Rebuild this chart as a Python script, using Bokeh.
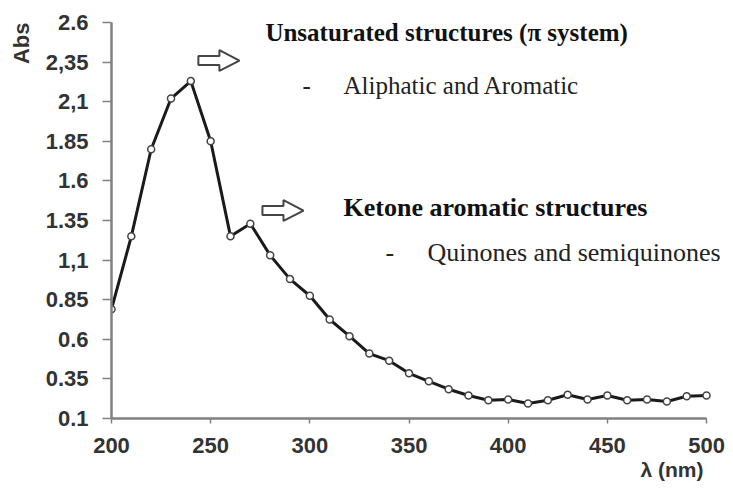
from bokeh.plotting import figure
from bokeh.models import Range1d, FixedTicker, Label, PolyAnnotation, ColumnDataSource, Title
from bokeh.embed import file_html
from bokeh.resources import INLINE

# ---- data ----
wavelength = [200, 210, 220, 230, 240, 250, 260, 270, 280, 290, 300, 310, 320, 330, 340, 350,
              360, 370, 380, 390, 400, 410, 420, 430, 440, 450, 460, 470, 480, 490, 500]
absorbance = [0.79, 1.25, 1.80, 2.12, 2.23, 1.85, 1.25, 1.33, 1.13, 0.98, 0.875, 0.725, 0.62, 0.51,
              0.465, 0.385, 0.335, 0.285, 0.245, 0.215, 0.22, 0.195, 0.215, 0.25, 0.22, 0.245,
              0.215, 0.22, 0.207, 0.24, 0.245]
y_ticks = [0.1, 0.35, 0.6, 0.85, 1.1, 1.35, 1.6, 1.85, 2.1, 2.35, 2.6]
y_tick_labels = ["0.1", "0.35", "0.6", "0.85", "1,1", "1.35", "1.6", "1.85", "2,1", "2,35", "2.6"]
x_ticks = [200, 250, 300, 350, 400, 450, 500]

# annotation texts and anchors (nm, Abs)
title1 = "Unsaturated structures (\u03c0 system)"
item1 = "Aliphatic and Aromatic"
title2 = "Ketone aromatic structures"
item2 = "Quinones and semiquinones"
arrow_tail_nm = [243.8, 276.1]
arrow_y = [2.36, 1.413]

# frame extends to the right/top edges so annotations are not clipped; axes bounded to the data span
p = figure(width=733, height=492, output_backend="svg", toolbar_location=None,
           x_range=Range1d(200, 513.6), y_range=Range1d(0.1, 2.739),
           min_border_left=111, min_border_right=0, min_border_top=0, min_border_bottom=74)
p.outline_line_color = None
p.xgrid.visible = False
p.ygrid.visible = False
p.background_fill_color = "white"

for ax in (p.xaxis[0], p.yaxis[0]):
    ax.axis_line_color = "#808080"
    ax.axis_line_width = 2.5
    ax.major_tick_line_color = "#808080"
    ax.major_tick_line_width = 1.5
    ax.minor_tick_line_color = None
    ax.major_tick_in = 0
    ax.major_label_text_font = "Liberation Sans"
    ax.major_label_text_font_style = "bold"
    ax.major_label_text_font_size = "22px"
    ax.major_label_text_color = "#333333"

p.xaxis.ticker = FixedTicker(ticks=x_ticks)
p.xaxis.bounds = (200, 500)
p.xaxis.major_tick_out = 5
p.xaxis.major_label_standoff = 14
p.yaxis.ticker = FixedTicker(ticks=y_ticks)
p.yaxis.bounds = (0.1, 2.6)
p.yaxis.major_label_overrides = {t: l for t, l in zip(y_ticks, y_tick_labels)}
p.yaxis.major_tick_out = 9
p.yaxis.major_label_standoff = 14

src = ColumnDataSource(dict(x=wavelength, y=absorbance))
p.line("x", "y", source=src, line_color="#1a1a1a", line_width=3)
p.scatter("x", "y", source=src, size=7, fill_color="white", line_color="#444444", line_width=1.5)

# hollow block arrows
arrow_len, head_len, shaft_half, head_half = 20.7, 10.1, 0.028, 0.066
for tx, cy in zip(arrow_tail_nm, arrow_y):
    hb = tx + arrow_len - head_len
    tip = tx + arrow_len
    xs = [tx, hb, hb, tip, hb, hb, tx]
    ys = [cy - shaft_half, cy - shaft_half, cy - head_half, cy, cy + head_half, cy + shaft_half, cy + shaft_half]
    p.add_layout(PolyAnnotation(xs=xs, ys=ys, fill_color="white", fill_alpha=1.0,
                                line_color="#444444", line_alpha=1.0, line_width=2))

serif = "Liberation Serif"
p.add_layout(Label(x=277.6, y=2.537, text=title1, text_font=serif, text_font_style="bold",
                   text_font_size="25px", text_color="#111111", text_baseline="alphabetic"))
p.add_layout(Label(x=296.3, y=2.202, text="-", text_font=serif, text_font_size="25px",
                   text_color="#222222", text_baseline="alphabetic"))
p.add_layout(Label(x=317.0, y=2.202, text=item1, text_font=serif, text_font_size="25px",
                   text_color="#222222", text_baseline="alphabetic"))
p.add_layout(Label(x=317.0, y=1.432, text=title2, text_font=serif, text_font_style="bold",
                   text_font_size="26px", text_color="#111111", text_baseline="alphabetic"))
p.add_layout(Label(x=338.1, y=1.148, text="-", text_font=serif, text_font_size="26px",
                   text_color="#222222", text_baseline="alphabetic"))
p.add_layout(Label(x=359.3, y=1.148, text=item2, text_font=serif, text_font_size="26px",
                   text_color="#222222", text_baseline="alphabetic"))

# axis titles as side-panel titles
p.add_layout(Title(text="Abs", align="right", vertical_align="top", offset=22, standoff=13,
                   text_font="Liberation Sans", text_font_style="bold", text_font_size="22px",
                   text_color="#333333"), "left")
p.add_layout(Title(text="\u03bb (nm)", align="right", offset=30, standoff=0,
                   text_font="Liberation Sans", text_font_style="bold", text_font_size="21px",
                   text_color="#333333"), "below")

open("out.html", "w").write(file_html(p, INLINE))
